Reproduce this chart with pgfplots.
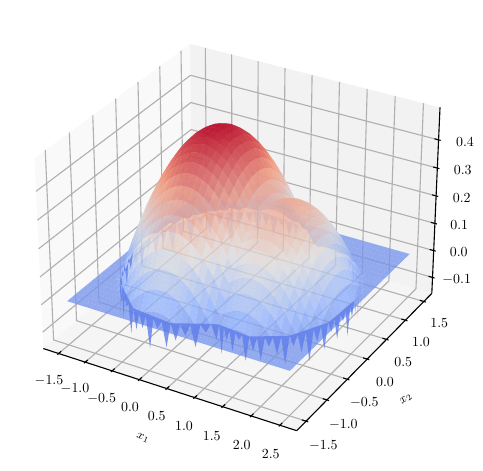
\documentclass[border=0pt]{standalone}
\usepackage{pgfplots}
\pgfplotsset{compat=1.18}
\definecolor{gr}{rgb}{.69,.69,.69}
\definecolor{spk}{RGB}{95,125,235}
\pgfplotsset{
 table/proj/.style={header=false,row sep=\\,
  x expr={PX(\thisrowno{0},\thisrowno{1},\thisrowno{2})},
  y expr={PY(\thisrowno{0},\thisrowno{1},\thisrowno{2})}},
 g/.style={gr,line width=.8pt,forget plot},
 k/.style={black,line width=.8pt,forget plot},
}
\def\gx{(-1.5+0.1*mod(\coordindex,41))}
\def\gy{(1.5-0.1*floor((\coordindex+.5)/41))}
\def\G#1#2#3#4#5#6#7#8#9{\addplot[g] table[proj]{#1 #2 #3\\#4 #5 #6\\#7 #8 #9\\};}
\def\L#1#2#3#4#5#6{\addplot[k] table[proj]{#1 #2 #3\\#4 #5 #6\\};}
\def\T#1#2#3{\node at (axis cs:#1,#2) {$#3$};}
\begin{document}
\begin{tikzpicture}[x=1pt,y=1pt]
\useasboundingbox (0,0) rectangle (347.76pt,339.12pt);
\begin{axis}[at={(0,0)},anchor=south west,scale only axis,width=347.76pt,height=339.12pt,
 xmin=0,xmax=483,ymin=0,ymax=471,hide axis,clip=false,
 declare function={
  PX(\x,\y,\z)=241+2541*(.2161*\x+.16612*\y-.10805)/(10.1665-.10805*\x+.24918*\y-.63647*\z);
  PY(\x,\y,\z)=242.6+2534*(-.06239*\x+.14386*\y+1.10237*\z-.1636)/(10.1665-.10805*\x+.24918*\y-.63647*\z);
 },
 colormap={cw}{rgb255=(59,76,192) rgb255=(141,176,254) rgb255=(221,220,220) rgb255=(244,152,122) rgb255=(180,4,38)},
 point meta min=-0.11,point meta max=0.49]
% panes
\addplot[fill={rgb,1:red,.975;green,.975;blue,.975},draw=none,forget plot] table[proj]{-1.79 -1.72 -.16\\-1.79 1.72 -.16\\-1.79 1.72 .5134\\-1.79 -1.72 .5134\\};
\addplot[fill={rgb,1:red,.95;green,.95;blue,.95},draw=none,forget plot] table[proj]{-1.79 1.72 -.16\\2.79 1.72 -.16\\2.79 1.72 .5134\\-1.79 1.72 .5134\\};
\addplot[fill={rgb,1:red,.9625;green,.9625;blue,.9625},draw=none,forget plot] table[proj]{-1.79 -1.72 -.16\\2.79 -1.72 -.16\\2.79 1.72 -.16\\-1.79 1.72 -.16\\};
% grids x
\G{-1.5}{-1.72}{-.16}{-1.5}{1.72}{-.16}{-1.5}{1.72}{.5134}
\G{-1}{-1.72}{-.16}{-1}{1.72}{-.16}{-1}{1.72}{.5134}
\G{-.5}{-1.72}{-.16}{-.5}{1.72}{-.16}{-.5}{1.72}{.5134}
\G{0}{-1.72}{-.16}{0}{1.72}{-.16}{0}{1.72}{.5134}
\G{.5}{-1.72}{-.16}{.5}{1.72}{-.16}{.5}{1.72}{.5134}
\G{1}{-1.72}{-.16}{1}{1.72}{-.16}{1}{1.72}{.5134}
\G{1.5}{-1.72}{-.16}{1.5}{1.72}{-.16}{1.5}{1.72}{.5134}
\G{2}{-1.72}{-.16}{2}{1.72}{-.16}{2}{1.72}{.5134}
\G{2.5}{-1.72}{-.16}{2.5}{1.72}{-.16}{2.5}{1.72}{.5134}
% grids y
\G{2.79}{-1.5}{-.16}{-1.79}{-1.5}{-.16}{-1.79}{-1.5}{.5134}
\G{2.79}{-1}{-.16}{-1.79}{-1}{-.16}{-1.79}{-1}{.5134}
\G{2.79}{-.5}{-.16}{-1.79}{-.5}{-.16}{-1.79}{-.5}{.5134}
\G{2.79}{0}{-.16}{-1.79}{0}{-.16}{-1.79}{0}{.5134}
\G{2.79}{.5}{-.16}{-1.79}{.5}{-.16}{-1.79}{.5}{.5134}
\G{2.79}{1}{-.16}{-1.79}{1}{-.16}{-1.79}{1}{.5134}
\G{2.79}{1.5}{-.16}{-1.79}{1.5}{-.16}{-1.79}{1.5}{.5134}
% grids z
\G{-1.79}{-1.72}{-.1}{-1.79}{1.72}{-.1}{2.79}{1.72}{-.1}
\G{-1.79}{-1.72}{0}{-1.79}{1.72}{0}{2.79}{1.72}{0}
\G{-1.79}{-1.72}{.1}{-1.79}{1.72}{.1}{2.79}{1.72}{.1}
\G{-1.79}{-1.72}{.2}{-1.79}{1.72}{.2}{2.79}{1.72}{.2}
\G{-1.79}{-1.72}{.3}{-1.79}{1.72}{.3}{2.79}{1.72}{.3}
\G{-1.79}{-1.72}{.4}{-1.79}{1.72}{.4}{2.79}{1.72}{.4}
% axis lines
\L{-1.79}{-1.72}{-.16}{2.79}{-1.72}{-.16}
\L{2.79}{-1.72}{-.16}{2.79}{1.72}{-.16}
\L{2.79}{1.72}{-.16}{2.79}{1.72}{.5134}
% ticks x
\L{-1.5}{-1.7475}{-.16}{-1.5}{-1.665}{-.16}
\L{-1}{-1.7475}{-.16}{-1}{-1.665}{-.16}
\L{-.5}{-1.7475}{-.16}{-.5}{-1.665}{-.16}
\L{0}{-1.7475}{-.16}{0}{-1.665}{-.16}
\L{.5}{-1.7475}{-.16}{.5}{-1.665}{-.16}
\L{1}{-1.7475}{-.16}{1}{-1.665}{-.16}
\L{1.5}{-1.7475}{-.16}{1.5}{-1.665}{-.16}
\L{2}{-1.7475}{-.16}{2}{-1.665}{-.16}
\L{2.5}{-1.7475}{-.16}{2.5}{-1.665}{-.16}
% ticks y
\L{2.8266}{-1.5}{-.16}{2.7167}{-1.5}{-.16}
\L{2.8266}{-1}{-.16}{2.7167}{-1}{-.16}
\L{2.8266}{-.5}{-.16}{2.7167}{-.5}{-.16}
\L{2.8266}{0}{-.16}{2.7167}{0}{-.16}
\L{2.8266}{.5}{-.16}{2.7167}{.5}{-.16}
\L{2.8266}{1}{-.16}{2.7167}{1}{-.16}
\L{2.8266}{1.5}{-.16}{2.7167}{1.5}{-.16}
% ticks z
\L{2.8266}{1.72}{-.1}{2.7167}{1.72}{-.1}
\L{2.8266}{1.72}{0}{2.7167}{1.72}{0}
\L{2.8266}{1.72}{.1}{2.7167}{1.72}{.1}
\L{2.8266}{1.72}{.2}{2.7167}{1.72}{.2}
\L{2.8266}{1.72}{.3}{2.7167}{1.72}{.3}
\L{2.8266}{1.72}{.4}{2.7167}{1.72}{.4}
% rear spikes
\addplot[fill=spk,draw=none,fill opacity=.35,forget plot] table[proj]{
.489 1.444 0\\.418 1.467 -.04\\.346 1.487 0\\.273 1.5 -.07\\.199 1.5 0\\.125 1.5 -.03\\.05 1.5 0\\-.025 1.5 -.08\\-.1 1.5 0\\-.174 1.5 -.05\\-.248 1.5 0\\-.322 1.493 -.09\\-.394 1.475 0\\-.466 1.452 -.04\\-.536 1.426 0\\-.604 1.396 -.07\\-.671 1.363 0\\-.737 1.326 -.1\\-.799 1.285 0\\-.861 1.242 -.05\\-.919 1.195 0\\-.975 1.146 -.08\\-1.029 1.093 0\\-1.079 1.038 -.03\\-1.127 .98 0\\-1.171 .92 -.09\\-1.213 .858 0\\-1.251 .793 -.06\\-1.285 .727 0\\-1.316 .659 -.1\\-1.344 .589 0\\-1.367 .518 -.05\\-1.388 .446 0\\-1.404 .373 -.08\\-1.416 .299 0\\-1.425 .225 -.04\\-1.429 .15 0\\-1.43 .075 -.09\\-1.427 0 0\\-1.419 -.074 -.06\\-1.408 -.148 0\\-1.43 .15 0\\-1.316 .659 0\\-.919 1.195 0\\-.248 1.5 0\\};
\addplot[fill=spk,draw=none,fill opacity=.35,forget plot] table[proj]{
2.401 .195 0\\2.389 .252 -.06\\2.374 .309 0\\2.357 .364 -.09\\2.336 .419 0\\2.313 .473 -.04\\2.287 .524 0\\2.258 .576 -.1\\2.227 .625 0\\2.193 .673 -.05\\2.156 .719 0\\2.117 .762 -.08\\2.077 .804 0\\2.033 .844 -.03\\1.989 .881 0\\1.942 .916 -.07\\1.893 .948 0\\1.842 .978 -.1\\1.79 1.005 0\\1.737 1.03 -.04\\1.682 1.051 0\\2.156 .719 0\\};
% surface: x from -1.5 to 2.5 by 0.1 within each row, rows y = 1.5 down to -1.5 by 0.1
\addplot[surf,shader=flat,z buffer=none,mesh/rows=31,mesh/cols=41,fill opacity=.78,draw opacity=0,point meta=\thisrowno{0},forget plot]
 table[header=false,row sep=\\,x index=0,y index=0,x expr={PX(\gx,\gy,\thisrowno{0})},y expr={PY(\gx,\gy,\thisrowno{0})}] {
0\\0\\0\\0\\0\\0\\0\\0\\0\\0\\0\\0\\0\\.012\\.019\\.022\\.019\\.012\\0\\0\\0\\0\\0\\0\\0\\0\\0\\0\\0\\0\\0\\0\\0\\0\\0\\0\\0\\0\\0\\0\\0\\
0\\0\\0\\0\\0\\0\\0\\0\\0\\0\\.026\\.048\\.065\\.077\\.084\\.086\\.084\\.077\\.065\\.048\\.026\\0\\0\\0\\0\\0\\0\\0\\0\\0\\0\\0\\0\\0\\0\\0\\0\\0\\0\\0\\0\\
0\\0\\0\\0\\0\\0\\0\\0\\.029\\.060\\.086\\.108\\.124\\.136\\.143\\.146\\.143\\.136\\.124\\.108\\.086\\.060\\.029\\0\\0\\0\\0\\0\\0\\0\\0\\0\\0\\0\\0\\0\\0\\0\\0\\0\\0\\
0\\0\\0\\0\\0\\0\\.007\\.048\\.084\\.115\\.141\\.163\\.179\\.191\\.198\\.201\\.198\\.191\\.179\\.163\\.141\\.115\\.084\\.048\\.007\\0\\0\\0\\0\\0\\0\\0\\0\\0\\0\\0\\0\\0\\0\\0\\0\\
0\\0\\0\\0\\0\\.012\\.057\\.098\\.134\\.165\\.191\\.213\\.230\\.241\\.249\\.251\\.249\\.241\\.230\\.213\\.191\\.165\\.134\\.098\\.057\\.012\\0\\.007\\.010\\.007\\0\\0\\0\\0\\0\\0\\0\\0\\0\\0\\0\\
0\\0\\0\\0\\.007\\.057\\.103\\.143\\.179\\.210\\.237\\.258\\.275\\.287\\.294\\.296\\.294\\.287\\.275\\.258\\.237\\.210\\.179\\.143\\.103\\.057\\.052\\.060\\.062\\.060\\.052\\.040\\.022\\0\\0\\0\\0\\0\\0\\0\\0\\
0\\0\\0\\0\\.048\\.098\\.143\\.184\\.220\\.251\\.277\\.299\\.316\\.327\\.335\\.337\\.335\\.327\\.316\\.299\\.277\\.251\\.220\\.184\\.143\\.098\\.099\\.107\\.109\\.107\\.099\\.087\\.069\\.047\\.020\\0\\0\\0\\0\\0\\0\\
0\\0\\0\\.029\\.084\\.134\\.179\\.220\\.256\\.287\\.313\\.335\\.351\\.363\\.371\\.373\\.371\\.363\\.351\\.335\\.313\\.287\\.256\\.220\\.179\\.134\\.141\\.149\\.151\\.149\\.141\\.129\\.112\\.089\\.062\\.030\\0\\0\\0\\0\\0\\
0\\0\\0\\.060\\.115\\.165\\.210\\.251\\.287\\.318\\.344\\.366\\.383\\.394\\.402\\.404\\.402\\.394\\.383\\.366\\.344\\.318\\.287\\.251\\.210\\.166\\.179\\.186\\.189\\.186\\.179\\.166\\.149\\.127\\.099\\.067\\.030\\0\\0\\0\\0\\
0\\0\\.026\\.086\\.141\\.191\\.237\\.277\\.313\\.344\\.370\\.392\\.409\\.421\\.428\\.430\\.428\\.421\\.409\\.392\\.370\\.344\\.313\\.277\\.237\\.198\\.211\\.218\\.221\\.218\\.211\\.198\\.181\\.159\\.131\\.099\\.062\\.020\\0\\0\\0\\
0\\0\\.048\\.108\\.163\\.213\\.258\\.299\\.335\\.366\\.392\\.414\\.430\\.442\\.449\\.452\\.449\\.442\\.430\\.414\\.392\\.366\\.335\\.299\\.258\\.226\\.238\\.246\\.248\\.246\\.238\\.226\\.208\\.186\\.159\\.127\\.089\\.047\\0\\0\\0\\
0\\0\\.065\\.124\\.179\\.230\\.275\\.316\\.351\\.383\\.409\\.430\\.447\\.459\\.466\\.469\\.466\\.459\\.447\\.430\\.409\\.383\\.351\\.316\\.275\\.248\\.260\\.268\\.270\\.268\\.260\\.248\\.231\\.208\\.181\\.149\\.112\\.069\\.022\\0\\0\\
0\\.012\\.077\\.136\\.191\\.241\\.287\\.327\\.363\\.394\\.421\\.442\\.459\\.471\\.478\\.480\\.478\\.471\\.459\\.442\\.421\\.394\\.363\\.327\\.287\\.265\\.278\\.285\\.288\\.285\\.278\\.265\\.248\\.226\\.198\\.166\\.129\\.087\\.040\\0\\0\\
0\\.019\\.084\\.143\\.198\\.249\\.294\\.335\\.371\\.402\\.428\\.449\\.466\\.478\\.485\\.488\\.485\\.478\\.466\\.449\\.428\\.402\\.371\\.335\\.294\\.278\\.290\\.298\\.300\\.298\\.290\\.278\\.260\\.238\\.211\\.179\\.141\\.099\\.052\\0\\0\\
0\\.022\\.086\\.146\\.201\\.251\\.296\\.337\\.373\\.404\\.430\\.452\\.469\\.480\\.488\\.490\\.488\\.480\\.469\\.452\\.430\\.404\\.373\\.337\\.296\\.285\\.298\\.305\\.308\\.305\\.298\\.285\\.268\\.246\\.218\\.186\\.149\\.107\\.060\\.007\\0\\
0\\.019\\.084\\.143\\.198\\.249\\.294\\.335\\.371\\.402\\.428\\.449\\.466\\.478\\.485\\.488\\.485\\.478\\.466\\.449\\.428\\.402\\.371\\.335\\.294\\.288\\.300\\.308\\.310\\.308\\.300\\.288\\.270\\.248\\.221\\.189\\.151\\.109\\.062\\.010\\0\\
0\\.012\\.077\\.136\\.191\\.241\\.287\\.327\\.363\\.394\\.421\\.442\\.459\\.471\\.478\\.480\\.478\\.471\\.459\\.442\\.421\\.394\\.363\\.327\\.287\\.285\\.298\\.305\\.308\\.305\\.298\\.285\\.268\\.246\\.218\\.186\\.149\\.107\\.060\\.007\\0\\
0\\0\\.065\\.124\\.179\\.230\\.275\\.316\\.351\\.383\\.409\\.430\\.447\\.459\\.466\\.469\\.466\\.459\\.447\\.430\\.409\\.383\\.351\\.316\\.275\\.278\\.290\\.298\\.300\\.298\\.290\\.278\\.260\\.238\\.211\\.179\\.141\\.099\\.052\\0\\0\\
0\\0\\.048\\.108\\.163\\.213\\.258\\.299\\.335\\.366\\.392\\.414\\.430\\.442\\.449\\.452\\.449\\.442\\.430\\.414\\.392\\.366\\.335\\.299\\.258\\.265\\.278\\.285\\.288\\.285\\.278\\.265\\.248\\.226\\.198\\.166\\.129\\.087\\.040\\0\\0\\
0\\0\\.026\\.086\\.141\\.191\\.237\\.277\\.313\\.344\\.370\\.392\\.409\\.421\\.428\\.430\\.428\\.421\\.409\\.392\\.370\\.344\\.313\\.277\\.237\\.248\\.260\\.268\\.270\\.268\\.260\\.248\\.231\\.208\\.181\\.149\\.112\\.069\\.022\\0\\0\\
0\\0\\0\\.060\\.115\\.165\\.210\\.251\\.287\\.318\\.344\\.366\\.383\\.394\\.402\\.404\\.402\\.394\\.383\\.366\\.344\\.318\\.287\\.251\\.210\\.226\\.238\\.246\\.248\\.246\\.238\\.226\\.208\\.186\\.159\\.127\\.089\\.047\\0\\0\\0\\
0\\0\\0\\.029\\.084\\.134\\.179\\.220\\.256\\.287\\.313\\.335\\.351\\.363\\.371\\.373\\.371\\.363\\.351\\.335\\.313\\.287\\.256\\.220\\.181\\.198\\.211\\.218\\.221\\.218\\.211\\.198\\.181\\.159\\.131\\.099\\.062\\.020\\0\\0\\0\\
0\\0\\0\\0\\.048\\.098\\.143\\.184\\.220\\.251\\.277\\.299\\.316\\.327\\.335\\.337\\.335\\.327\\.316\\.299\\.277\\.251\\.220\\.184\\.149\\.166\\.179\\.186\\.189\\.186\\.179\\.166\\.149\\.127\\.099\\.067\\.030\\0\\0\\0\\0\\
0\\0\\0\\0\\.007\\.057\\.103\\.143\\.179\\.210\\.237\\.258\\.275\\.287\\.294\\.296\\.294\\.287\\.275\\.258\\.237\\.210\\.179\\.143\\.112\\.129\\.141\\.149\\.151\\.149\\.141\\.129\\.112\\.089\\.062\\.030\\0\\0\\0\\0\\0\\
0\\0\\0\\0\\0\\.012\\.057\\.098\\.134\\.165\\.191\\.213\\.230\\.241\\.249\\.251\\.249\\.241\\.230\\.213\\.191\\.165\\.134\\.098\\.069\\.087\\.099\\.107\\.109\\.107\\.099\\.087\\.069\\.047\\.020\\0\\0\\0\\0\\0\\0\\
0\\0\\0\\0\\0\\0\\.007\\.048\\.084\\.115\\.141\\.163\\.179\\.191\\.198\\.201\\.198\\.191\\.179\\.163\\.141\\.115\\.084\\.048\\.022\\.040\\.052\\.060\\.062\\.060\\.052\\.040\\.022\\0\\0\\0\\0\\0\\0\\0\\0\\
0\\0\\0\\0\\0\\0\\0\\0\\.029\\.060\\.086\\.108\\.124\\.136\\.143\\.146\\.143\\.136\\.124\\.108\\.086\\.060\\.029\\0\\0\\0\\0\\.007\\.010\\.007\\0\\0\\0\\0\\0\\0\\0\\0\\0\\0\\0\\
0\\0\\0\\0\\0\\0\\0\\0\\0\\0\\.026\\.048\\.065\\.077\\.084\\.086\\.084\\.077\\.065\\.048\\.026\\0\\0\\0\\0\\0\\0\\0\\0\\0\\0\\0\\0\\0\\0\\0\\0\\0\\0\\0\\0\\
0\\0\\0\\0\\0\\0\\0\\0\\0\\0\\0\\0\\0\\.012\\.019\\.022\\.019\\.012\\0\\0\\0\\0\\0\\0\\0\\0\\0\\0\\0\\0\\0\\0\\0\\0\\0\\0\\0\\0\\0\\0\\0\\
0\\0\\0\\0\\0\\0\\0\\0\\0\\0\\0\\0\\0\\0\\0\\0\\0\\0\\0\\0\\0\\0\\0\\0\\0\\0\\0\\0\\0\\0\\0\\0\\0\\0\\0\\0\\0\\0\\0\\0\\0\\
0\\0\\0\\0\\0\\0\\0\\0\\0\\0\\0\\0\\0\\0\\0\\0\\0\\0\\0\\0\\0\\0\\0\\0\\0\\0\\0\\0\\0\\0\\0\\0\\0\\0\\0\\0\\0\\0\\0\\0\\0\\
};
% front spikes
\addplot[fill=spk,draw=none,fill opacity=.8,forget plot] table[proj]{
-1.408 -.148 0\\-1.393 -.222 -.05\\-1.375 -.294 0\\-1.352 -.366 -.09\\-1.326 -.436 0\\-1.296 -.504 -.03\\-1.263 -.571 0\\-1.226 -.636 -.1\\-1.186 -.699 0\\-1.142 -.761 -.06\\-1.095 -.819 0\\-1.046 -.875 -.11\\-.993 -.929 0\\-.938 -.979 -.04\\-.88 -1.027 0\\-.82 -1.071 -.08\\-.758 -1.113 0\\-.693 -1.151 -.02\\-.627 -1.185 0\\-.559 -1.217 -.1\\-.489 -1.244 0\\-.418 -1.267 -.07\\-.346 -1.287 0\\-.273 -1.304 -.05\\-.199 -1.316 0\\-.124 -1.325 -.11\\-.05 -1.329 0\\.025 -1.33 -.03\\.1 -1.327 0\\.174 -1.319 -.09\\.248 -1.308 0\\.322 -1.293 -.06\\.394 -1.275 0\\.466 -1.252 -.04\\.536 -1.226 0\\.604 -1.196 -.08\\.671 -1.163 0\\.737 -1.126 -.03\\.799 -1.085 0\\.861 -1.042 -.06\\.918 -1.051 0\\.973 -1.069 -.1\\1.029 -1.085 0\\1.086 -1.098 -.04\\1.145 -1.107 0\\1.203 -1.114 -.07\\1.261 -1.117 0\\1.319 -1.118 -.02\\1.378 -1.116 0\\1.436 -1.11 -.09\\1.494 -1.101 0\\1.552 -1.089 -.05\\1.609 -1.074 0\\1.664 -1.058 -.08\\1.719 -1.036 0\\1.773 -1.013 -.03\\1.824 -.987 0\\1.876 -.958 -.06\\1.925 -.927 0\\1.973 -.893 -.1\\2.019 -.856 0\\2.062 -.817 -.04\\2.104 -.777 0\\2.144 -.733 -.07\\2.181 -.688 0\\2.216 -.641 -.11\\2.248 -.592 0\\2.278 -.542 -.05\\2.305 -.49 0\\2.33 -.437 -.09\\2.351 -.382 0\\2.369 -.326 -.04\\2.384 -.271 0\\2.398 -.214 -.08\\2.407 -.155 0\\2.413 -.097 -.03\\2.417 -.039 0\\2.418 .02 -.1\\2.416 .078 0\\2.41 .136 -.05\\2.401 .195 0\\2.351 -.382 0\\2.019 -.856 0\\1.494 -1.101 0\\.918 -1.051 0\\.799 -1.085 0\\.248 -1.308 0\\-.489 -1.244 0\\-1.095 -.819 0\\};
% tick labels
\T{49}{90.3}{-1.5}\T{75}{82}{-1.0}\T{101.7}{72.7}{-0.5}\T{130}{63.7}{0.0}\T{156.7}{55}{0.5}\T{184}{45}{1.0}\T{211.7}{35.3}{1.5}\T{241.7}{26}{2.0}\T{270.7}{16.7}{2.5}
\T{323.3}{25.3}{-1.5}\T{343.3}{46.7}{-1.0}\T{364.3}{68.7}{-0.5}\T{385}{88.7}{0.0}\T{403.3}{108.7}{0.5}\T{421}{128.7}{1.0}\T{439.3}{147.7}{1.5}
\T{456.7}{191.7}{-0.1}\T{458.7}{219}{0.0}\T{459.3}{246}{0.1}\T{461.7}{273.3}{0.2}\T{462.7}{301}{0.3}\T{465}{328.7}{0.4}
\node[rotate=-22] at (axis cs:143,33) {\small$x_1$};
\node[rotate=38] at (axis cs:406,72) {\small$x_2$};
\end{axis}
\end{tikzpicture}
\end{document}
